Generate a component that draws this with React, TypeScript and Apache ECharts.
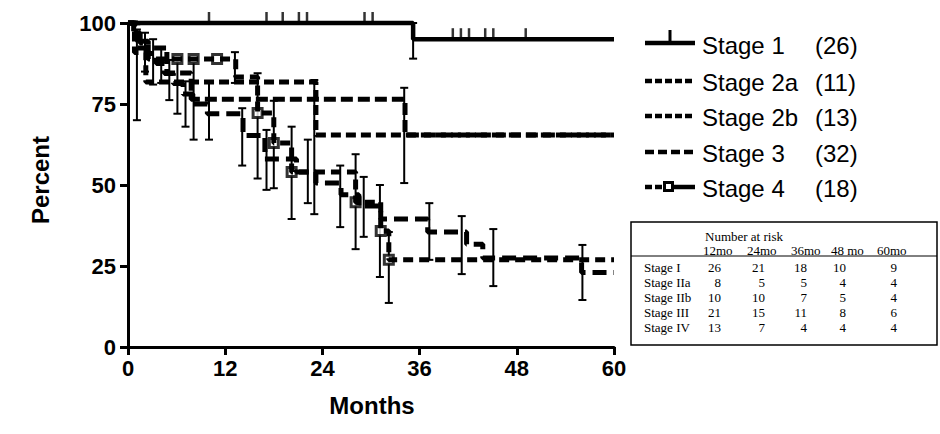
import React, { useEffect, useRef } from "react";
import * as echarts from "echarts";

// ---- data ----
const stageNames = ["Stage 1", "Stage 2a", "Stage 2b", "Stage 3", "Stage 4"];
const stageCounts = ["(26)", "(11)", "(13)", "(32)", "(18)"];

const stage1 = [[0, 100], [35.2, 95], [60, 95]];
const stage2a = [[0, 100], [0.8, 90.9], [2.2, 81.8], [23.2, 65.4], [60, 65.4]];
const stage2b = [[0, 100], [1.2, 92.3], [4.8, 84.6], [7.8, 76.5], [34.2, 65.4], [60, 65.4]];
const stage3 = [
  [0, 100], [0.7, 96.9], [1.5, 93.8], [2.5, 90.6], [3.5, 87.5], [4.5, 84.4], [5.6, 81.3],
  [6.8, 78.1], [8, 75], [9.8, 72], [14.2, 65.3], [16.9, 58], [20.8, 54], [23.2, 50.6],
  [26.3, 47], [28.5, 43.5], [31.2, 39.5], [37, 35.5], [41.8, 31.7], [43.8, 27.5], [56, 23], [60, 23],
];
const stage4 = [
  [0, 100], [1, 94.4], [2.5, 88.9], [13.3, 83.3], [16, 72.2], [18, 63], [20.2, 54],
  [28.1, 44.7], [31.2, 35.8], [32.2, 26.9], [60, 26.9],
];

// censored observations
const stage1Censored = [
  [10, 100], [17.1, 100], [19.1, 100], [21.1, 100], [22.1, 100], [29.2, 100], [30.2, 100],
  [40.1, 95], [41.1, 95], [42.1, 95], [44.1, 95], [45.1, 95], [49.1, 95],
];
const stage4Markers = [
  [6.1, 88.9], [8.1, 88.9], [11, 88.9], [16, 72.2], [18, 63], [20.2, 54],
  [28.1, 44.7], [31.2, 35.8], [32.2, 26.9],
];

// error bars: [month, low, high]
const stage1Err = [[35.2, 89, 100]];
const stage2aErr = [[2.1, 85, 97], [10, 64, 82], [23, 41, 82.4]];
const stage2bErr = [[5.1, 76.2, 88.6], [34.1, 50.6, 80]];
const stage3Err = [
  [1.1, 70, 98], [3.1, 81, 95], [4.1, 81.5, 92.6], [6.1, 72, 88.6], [7.1, 68, 82],
  [8.1, 64, 88], [14.1, 56, 73.7], [17.1, 48.5, 67], [22.2, 44.4, 64], [26.2, 37, 56],
  [29.1, 34, 52.5], [37.2, 26.9, 44.4], [41.2, 22.5, 40.4], [45.1, 18.8, 36.4], [56.1, 14.5, 31.5],
];
const stage4Err = [
  [13.2, 81.5, 91], [16, 52, 84.5], [18, 49, 76], [20.2, 39.5, 68],
  [28.1, 30.2, 59.5], [31.1, 21.6, 50], [32.2, 13.6, 35.5],
];

// number at risk table
const riskHeaders = ["12mo", "24mo", "36mo", "48 mo", "60mo"];
const riskRows = ["Stage I", "Stage IIa", "Stage IIb", "Stage III", "Stage IV"];
const riskValues = [
  [26, 21, 18, 10, 9],
  [8, 5, 5, 4, 4],
  [10, 10, 7, 5, 4],
  [21, 15, 11, 8, 6],
  [13, 7, 4, 4, 4],
];

const SANS = "'Liberation Sans', Arial, Helvetica, sans-serif";
const SERIF = "'Liberation Serif', 'Times New Roman', serif";

function errorSeries(data: number[][]) {
  return {
    type: "custom",
    clip: false,
    silent: true,
    data,
    encode: { x: 0, y: [1, 2] },
    renderItem: (_p: any, api: any) => {
      const x = api.value(0);
      const lo = api.coord([x, api.value(1)]);
      const hi = api.coord([x, api.value(2)]);
      const cap = 4;
      const st = { stroke: "#000", lineWidth: 2 };
      return {
        type: "group",
        children: [
          { type: "line", shape: { x1: lo[0], y1: lo[1], x2: hi[0], y2: hi[1] }, style: st },
          { type: "line", shape: { x1: lo[0] - cap, y1: lo[1], x2: lo[0] + cap, y2: lo[1] }, style: st },
          { type: "line", shape: { x1: hi[0] - cap, y1: hi[1], x2: hi[0] + cap, y2: hi[1] }, style: st },
        ],
      };
    },
  };
}

function stepSeries(name: string, data: number[][], dash: any, width: number) {
  return {
    name,
    type: "line",
    step: "end",
    clip: false,
    showSymbol: false,
    symbol: "none",
    data,
    lineStyle: { color: "#000", width, type: dash, cap: "butt" },
  };
}

export default function App() {
  const ref = useRef<HTMLDivElement>(null);
  useEffect(() => {
    if (!ref.current) return;
    const chart = echarts.init(ref.current, null, { renderer: "svg" });

    const rowsY = [45, 82, 117, 153, 188];
    const legend: any[] = [];
    const ls = (x1: number, x2: number, y: number, dash?: number[]) => ({
      type: "line",
      shape: { x1, y1: y, x2, y2: y },
      style: { stroke: "#000", lineWidth: 4.5, lineDash: dash || null },
    });
    // stage 1
    legend.push(ls(645, 695, rowsY[0] - 2));
    legend.push({ type: "line", shape: { x1: 670, y1: rowsY[0] - 15, x2: 670, y2: rowsY[0] - 2 }, style: { stroke: "#000", lineWidth: 3 } });
    legend.push(ls(645, 695, rowsY[1] - 1, [7, 3]));
    legend.push(ls(645, 695, rowsY[2] - 1, [7, 3]));
    legend.push(ls(645, 695, rowsY[3] - 1, [9, 4]));
    legend.push(ls(645, 664, rowsY[4] - 1, [7, 3]));
    legend.push(ls(672, 695, rowsY[4] - 1));
    legend.push({ type: "rect", shape: { x: 664.5, y: rowsY[4] - 5.5, width: 8, height: 8 }, style: { fill: "#fff", stroke: "#000", lineWidth: 3 } });
    stageNames.forEach((n, i) => {
      legend.push({ type: "text", x: 702, y: rowsY[i], style: { text: n, font: `24px ${SANS}`, fill: "#000", verticalAlign: "middle" } });
      legend.push({ type: "text", x: 815, y: rowsY[i], style: { text: stageCounts[i], font: `24px ${SANS}`, fill: "#000", verticalAlign: "middle" } });
    });

    const table: any[] = [
      { type: "rect", shape: { x: 631, y: 222, width: 306, height: 123 }, style: { fill: "none", stroke: "#000", lineWidth: 1.5 } },
      { type: "line", shape: { x1: 631, y1: 256, x2: 937, y2: 256 }, style: { stroke: "#000", lineWidth: 1 } },
      { type: "text", x: 705, y: 236, style: { text: "Number at risk", font: `13px ${SERIF}`, fill: "#000", verticalAlign: "middle" } },
    ];
    const headerX = [703, 747, 791, 831, 877];
    riskHeaders.forEach((h, i) => {
      table.push({ type: "text", x: headerX[i], y: 250, style: { text: h, font: `13px ${SERIF}`, fill: "#000", verticalAlign: "middle" } });
    });
    const valX = [721, 765, 807, 846, 897];
    riskRows.forEach((r, j) => {
      const y = 267 + j * 15;
      table.push({ type: "text", x: 644, y, style: { text: r, font: `13px ${SERIF}`, fill: "#000", verticalAlign: "middle" } });
      riskValues[j].forEach((v, i) => {
        table.push({ type: "text", x: valX[i], y, style: { text: String(v), font: `13px ${SERIF}`, fill: "#000", verticalAlign: "middle", align: "right" } });
      });
    });

    const axisCommon = {
      type: "value",
      axisLine: { show: true, onZero: false, lineStyle: { color: "#000", width: 3 } },
      axisTick: { show: true, length: 8, lineStyle: { color: "#000", width: 3 } },
      axisLabel: { color: "#000", fontSize: 22, fontWeight: "bold", fontFamily: SANS },
      splitLine: { show: false },
    };

    chart.setOption({
      animation: false,
      backgroundColor: "#fff",
      grid: { left: 128, right: 326, top: 23, bottom: 87, outerBoundsMode: "none" },
      xAxis: { ...axisCommon, min: 0, max: 60, interval: 12, axisLabel: { ...axisCommon.axisLabel, margin: 10 } },
      yAxis: { ...axisCommon, min: 0, max: 100, interval: 25, axisLabel: { ...axisCommon.axisLabel, margin: 12 } },
      series: [
        stepSeries("Stage 1", stage1, "solid", 4.5),
        stepSeries("Stage 2a", stage2a, [10, 5], 5),
        stepSeries("Stage 2b", stage2b, [12, 5], 5),
        stepSeries("Stage 3", stage3, [14, 7], 5),
        stepSeries("Stage 4", stage4, [10, 6], 5),
        errorSeries(stage1Err),
        errorSeries(stage2aErr),
        errorSeries(stage2bErr),
        errorSeries(stage3Err),
        errorSeries(stage4Err),
        {
          type: "scatter",
          clip: false,
          silent: true,
          data: stage1Censored,
          symbol: "rect",
          symbolSize: [2.5, 11],
          symbolOffset: [0, "-50%"],
          itemStyle: { color: "#000" },
        },
        {
          type: "scatter",
          clip: false,
          silent: true,
          data: stage4Markers,
          symbol: "rect",
          symbolSize: 9,
          itemStyle: { color: "#fff", borderColor: "#000", borderWidth: 3 },
        },
      ],
      graphic: [
        { type: "text", x: 40, y: 180, rotation: Math.PI / 2, style: { text: "Percent", font: `bold 24px ${SANS}`, fill: "#000", align: "center", verticalAlign: "middle" } },
        { type: "text", x: 372, y: 405, style: { text: "Months", font: `bold 24px ${SANS}`, fill: "#000", align: "center", verticalAlign: "middle" } },
        ...legend,
        ...table,
      ],
    });
    return () => chart.dispose();
  }, []);
  return <div ref={ref} style={{ width: 940, height: 434, position: "absolute", left: 0, top: 0 }} />;
}
